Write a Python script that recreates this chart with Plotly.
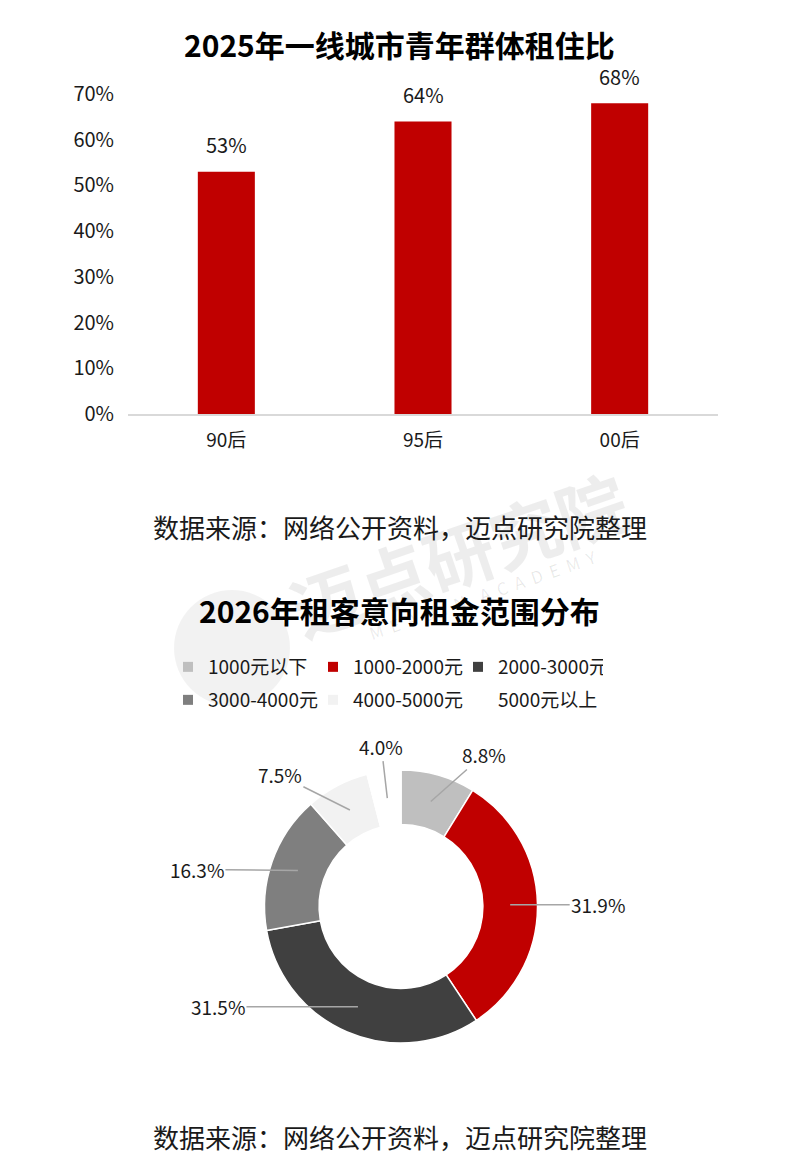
import math
import plotly.graph_objects as go

# ---------------- data ----------------
bar_categories = ["90后", "95后", "00后"]
bar_values = [53, 64, 68]  # %
y_ticks = [0, 10, 20, 30, 40, 50, 60, 70]
y_tick_labels = [f"{t}%" for t in y_ticks]

pie_labels = ["1000元以下", "1000-2000元", "2000-3000元", "3000-4000元", "4000-5000元", "5000元以上"]
pie_values = [8.8, 31.9, 31.5, 16.3, 7.5, 4.0]
pie_colors = ["#bfbfbf", "#c00000", "#404040", "#7f7f7f", "#f2f2f2", "#ffffff"]

title1 = "2025年一线城市青年群体租住比"
title2 = "2026年租客意向租金范围分布"
source_text = "数据来源：网络公开资料，迈点研究院整理"

# ---------------- layout helpers ----------------
PAGE_W, PAGE_H, BODY = 800, 1162, 8      # browser page, default body margin
W, H = PAGE_W - 2 * BODY, PAGE_H - 2 * BODY
FONT = "Noto Sans CJK SC, Microsoft YaHei, sans-serif"
TXT = "#1a1a1a"


def px(x):
    return (x - BODY) / W


def py(y):
    return 1 - (y - BODY) / H


# pie geometry (page pixels)
pie_cx, pie_cy, pie_r = 401, 906.5, 136.5
hole = 0.6
# label text offsets (pixels) from the slice midpoint
label_offsets = [(53, -47), (88, 0), (-140, 0), (-101, -1), (-70, -35), (-6, -52)]

fig = go.Figure()

fig.add_trace(go.Bar(
    x=bar_categories, y=bar_values,
    marker=dict(color="#c00000", line=dict(width=0)),
    showlegend=False, hoverinfo="skip", xaxis="x", yaxis="y",
))

fig.add_trace(go.Pie(
    labels=pie_labels, values=pie_values, sort=False, direction="clockwise",
    rotation=0, hole=hole, textinfo="none", hoverinfo="skip", showlegend=False,
    marker=dict(colors=pie_colors, line=dict(color="#ffffff", width=1.5)),
    domain=dict(x=[px(pie_cx - pie_r), px(pie_cx + pie_r)],
                y=[py(pie_cy + pie_r), py(pie_cy - pie_r)]),
))

# legend entries (two rows of three)
for i, (lab, col) in enumerate(zip(pie_labels, pie_colors)):
    fig.add_trace(go.Scatter(
        x=[None], y=[None], mode="markers", name=lab,
        marker=dict(symbol="square", size=10, color=col, line=dict(width=0)),
        legend="legend" if i < 3 else "legend2", xaxis="x", yaxis="y",
        hoverinfo="skip",
    ))

annotations = []


def ann(text, x, y, size, color=TXT, **kw):
    d = dict(text=text, x=x, y=y, xref="paper", yref="paper", showarrow=False,
             xanchor="center", yanchor="middle", font=dict(family=FONT, size=size, color=color))
    d.update(kw)
    annotations.append(d)


# watermark
NB = "\u00a0"
wm_small = (NB * 4).join((NB * 2).join(list(w)) for w in ["MEADIN", "ACADEMY"])
ann("<b>迈点研究院</b>", px(458), py(552), 70, "rgba(0,0,0,0.07)", textangle=-19)
ann(wm_small, px(482), py(594), 17, "rgba(0,0,0,0.09)", textangle=-19)

# titles & sources
XC = 0.5 * (px(0) + px(800))
ann(f"<b>{title1}</b>", XC, py(44), 30, "#000000")
ann(f"<b>{title2}</b>", XC, py(610), 30, "#000000")
ann(source_text, XC, py(526), 26)
ann(source_text, XC, py(1136), 26, borderpad=0)

# bar value labels
for c, v in zip(bar_categories, bar_values):
    annotations.append(dict(text=f"{v}%", x=c, y=v, xref="x", yref="y", showarrow=False,
                            xanchor="center", yanchor="middle", yshift=27,
                            font=dict(family=FONT, size=20, color=TXT)))

# pie labels with leader lines
total = sum(pie_values)
cum = 0.0
r_mid = pie_r * (1 + hole) / 2
for v, (ox, oy) in zip(pie_values, label_offsets):
    frac = (cum + v / 2) / total
    cum += v
    th = 2 * math.pi * frac
    tx = pie_cx + r_mid * math.sin(th)
    ty = pie_cy - r_mid * math.cos(th)
    annotations.append(dict(text=f"{v:.1f}%", x=px(tx), y=py(ty), xref="paper", yref="paper",
                            showarrow=True, arrowhead=0, arrowwidth=1.5, arrowcolor="#a6a6a6",
                            standoff=0, ax=ox, ay=oy,
                            font=dict(family=FONT, size=19, color=TXT)))

shapes = [dict(type="circle", xref="paper", yref="paper", layer="below",
               x0=px(232 - 58), x1=px(232 + 58), y0=py(648 + 58), y1=py(648 - 58),
               fillcolor="rgba(0,0,0,0.05)", line=dict(width=0))]

legend_common = dict(orientation="h", xref="paper", yref="paper", xanchor="left", yanchor="middle",
                     entrywidth=100, entrywidthmode="pixels", bgcolor="rgba(0,0,0,0)",
                     font=dict(family=FONT, size=19, color=TXT), itemclick=False,
                     itemdoubleclick=False, traceorder="normal")

fig.update_layout(
    width=W, height=H, margin=dict(l=0, r=0, t=0, b=0, pad=0, autoexpand=False),
    paper_bgcolor="#ffffff", plot_bgcolor="#ffffff",
    font=dict(family=FONT, color=TXT),
    bargap=0.71,
    xaxis=dict(domain=[px(128), px(718)], type="category", showline=True, linecolor="#d9d9d9",
               linewidth=2, ticks="", showgrid=False, zeroline=False, fixedrange=True,
               automargin=False, ticklabelstandoff=8,
               tickfont=dict(family=FONT, size=19, color=TXT)),
    yaxis=dict(domain=[py(414), py(94)], range=[0, 70], tickmode="array", tickvals=y_ticks,
               ticktext=y_tick_labels, showgrid=False, zeroline=False, showline=False, ticks="",
               fixedrange=True, automargin=False, ticklabelstandoff=13,
               tickfont=dict(family=FONT, size=20, color=TXT)),
    legend=dict(x=px(168), y=py(667), **legend_common),
    legend2=dict(x=px(168), y=py(700), **legend_common),
    annotations=annotations,
    shapes=shapes,
    hovermode=False,
)

fig.write_html("out.html")
